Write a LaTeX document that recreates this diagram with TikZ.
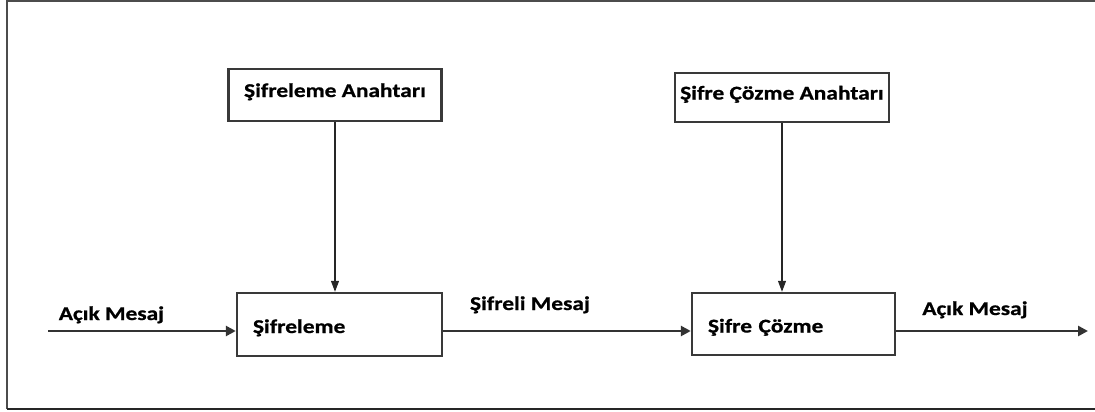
\documentclass[tikz,border=0pt]{standalone}
\usepackage{fontspec}
\setmainfont{Carlito}[FakeStretch=1.2,BoldFeatures={FakeBold=0.8}]
\usetikzlibrary{
  arrows.meta, % for the Triangle arrow tips
  positioning, % for the labels above the arrows
}
\tikzset{
  block/.style={ % style for each box
    rectangle,draw=gray!45!black,line width=2.4pt, % grey framed box
    font=\bfseries\fontsize{19.5}{23}\selectfont,
    inner sep=0pt,
  },
  keybox/.style={ % the key boxes, text set a bit high
    block,text height=12pt,text depth=8pt,
  },
  procbox/.style={ % the process boxes, text set low and left
    block,text height=20pt,text depth=3pt,align=left,
  },
  msg/.style={ % style for the message labels
    font=\bfseries\fontsize{19.5}{23}\selectfont,
    inner sep=0pt,anchor=base,
  },
  conn/.style={ % style for the message flow
    -{Triangle[length=10pt,width=10pt]},
    draw=gray!40!black,line width=2.6pt,
  },
  keyconn/.style={ % style for the key lines
    -{Triangle[length=11pt,width=8pt]},
    draw=gray!30!black,line width=1.1pt,
  },
}

\begin{document}
\begin{tikzpicture}[x=1pt,y=-1pt]
	\useasboundingbox (0,0) rectangle (1095,412);
	% frame
	\draw[gray!60!black,line width=1.2pt] (1095,1) -- (7,1) -- (7,409);
	\draw[gray!30!black,line width=2.4pt] (7,409) -- (1095,409);

	\node[keybox,minimum width=213pt,minimum height=52pt] (keyA) at (335,95) {Şifreleme Anahtarı};
	\node[keybox,minimum width=214pt,minimum height=49pt] (keyB) at (782,97.5) {Şifre Çözme Anahtarı};

	\node[procbox,minimum height=63pt,text width=173pt,inner xsep=16pt] (enc) at (339.5,324.5) {Şifreleme};
	\node[procbox,minimum height=62pt,text width=171pt,inner xsep=16pt] (dec) at (793.5,324) {Şifre Çözme};

	\coordinate (in) at (48,331);
	\coordinate (out) at (1088,331);

	\draw[keyconn] (keyA.south) -- (keyA.south |- enc.north);
	\draw[keyconn] (keyB.south) -- (keyB.south |- dec.north);

	\draw[conn] (in) -- (in -| enc.west);
	\draw[conn] (in -| enc.east) -- (in -| dec.west);
	\draw[conn] (in -| dec.east) -- (out);

	\node[msg] (inmsg) at (111.5,320) {Açık Mesaj};
	\node[msg] (encmsg) at (530,310) {Şifreli Mesaj};
	\node[msg] (outmsg) at (975,315) {Açık Mesaj};

\end{tikzpicture}
\end{document}
